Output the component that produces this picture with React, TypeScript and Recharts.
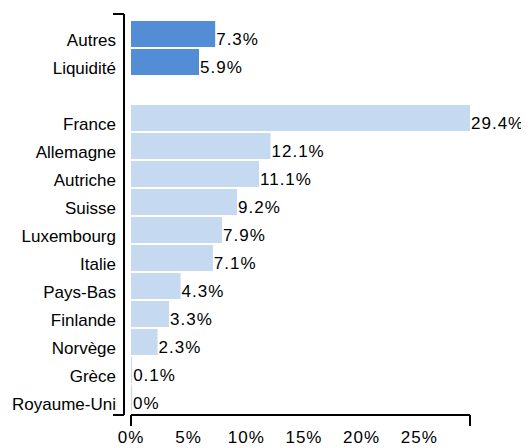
import React from 'react';
import { BarChart, Bar, XAxis, YAxis, Cell, LabelList } from 'recharts';

// rows top to bottom; the empty name is the spacer row between the two groups
const categories = ['Autres', 'Liquidité', '', 'France', 'Allemagne', 'Autriche', 'Suisse', 'Luxembourg', 'Italie', 'Pays-Bas', 'Finlande', 'Norvège', 'Grèce', 'Royaume-Uni'];
const weights: (number | null)[] = [7.3, 5.9, null, 29.4, 12.1, 11.1, 9.2, 7.9, 7.1, 4.3, 3.3, 2.3, 0.1, 0];
const highlighted = ['Autres', 'Liquidité'];
const xTickValues = [0, 5, 10, 15, 20, 25];

const data = categories.map((name, i) => ({ name, value: weights[i] }));
const maxValue = Math.max(...weights.filter((v): v is number => v != null));

const FONT = '"Liberation Sans", Arial, sans-serif';
const DARK = '#538DD5';
const LIGHT = '#C5D9F1';
const PAD_TOP = 6;
const PAD_BOTTOM = 3;
const Y_LINE_SHIFT = 7;
const BRACKET = 11;

const CategoryTick = (props: any) => {
  const { x, y, payload, index } = props;
  const half = payload?.offset ?? 14;
  const lineX = x + 8;
  const last = payload?.value === categories[categories.length - 1];
  return (
    <g>
      <text x={x} y={y + 12} textAnchor="end" fontFamily={FONT} fontSize={17} fill="#000">
        {payload.value}
      </text>
      {index === 0 && (
        <line x1={lineX - BRACKET} x2={lineX} y1={y - half - PAD_TOP} y2={y - half - PAD_TOP} stroke="#000" strokeWidth={2} />
      )}
      {last && (
        <line x1={lineX - BRACKET} x2={lineX} y1={y + half + PAD_BOTTOM} y2={y + half + PAD_BOTTOM} stroke="#000" strokeWidth={2} />
      )}
    </g>
  );
};

const PercentTick = (props: any) => {
  const { x, y, payload } = props;
  const v = payload.value;
  const isEnd = v === 0 || v === maxValue;
  return (
    <g>
      {isEnd && <line x1={x} x2={x} y1={y} y2={y + BRACKET} stroke="#000" strokeWidth={2} />}
      {xTickValues.includes(v) && (
        <text x={x} y={y + 28} textAnchor="middle" fontFamily={FONT} fontSize={17} letterSpacing={1} fill="#000">
          {v}%
        </text>
      )}
    </g>
  );
};

const ValueLabel = (props: any) => {
  const { x, y, width, height, value } = props;
  if (value == null) return null;
  return (
    <text x={x + width + 1} y={y + height / 2 + 11} fontFamily={FONT} fontSize={17} letterSpacing={1} fill="#000">
      {value}%
    </text>
  );
};

export default function App() {
  return (
    <BarChart
      width={521}
      height={440}
      data={data}
      layout="vertical"
      margin={{ top: 6, right: 59, bottom: 0, left: 0 }}
      barCategoryGap={1}
    >
      <XAxis
        type="number"
        domain={[0, maxValue]}
        ticks={[...xTickValues, maxValue]}
        interval={0}
        height={33}
        tickSize={0}
        tickMargin={0}
        tickLine={false}
        axisLine={{ stroke: '#000', strokeWidth: 2 }}
        tick={<PercentTick />}
      />
      <YAxis
        type="category"
        dataKey="name"
        width={123}
        interval={0}
        tickSize={0}
        tickMargin={15}
        tickLine={false}
        padding={{ top: PAD_TOP, bottom: PAD_BOTTOM }}
        axisLine={{ stroke: '#000', strokeWidth: 2, transform: `translate(-${Y_LINE_SHIFT}, 0)` }}
        tick={<CategoryTick />}
      />
      <Bar dataKey="value" minPointSize={1} isAnimationActive={false}>
        {data.map((d, i) => (
          <Cell key={`cell-${i}`} fill={highlighted.includes(d.name) ? DARK : LIGHT} />
        ))}
        <LabelList dataKey="value" content={<ValueLabel />} />
      </Bar>
    </BarChart>
  );
}
